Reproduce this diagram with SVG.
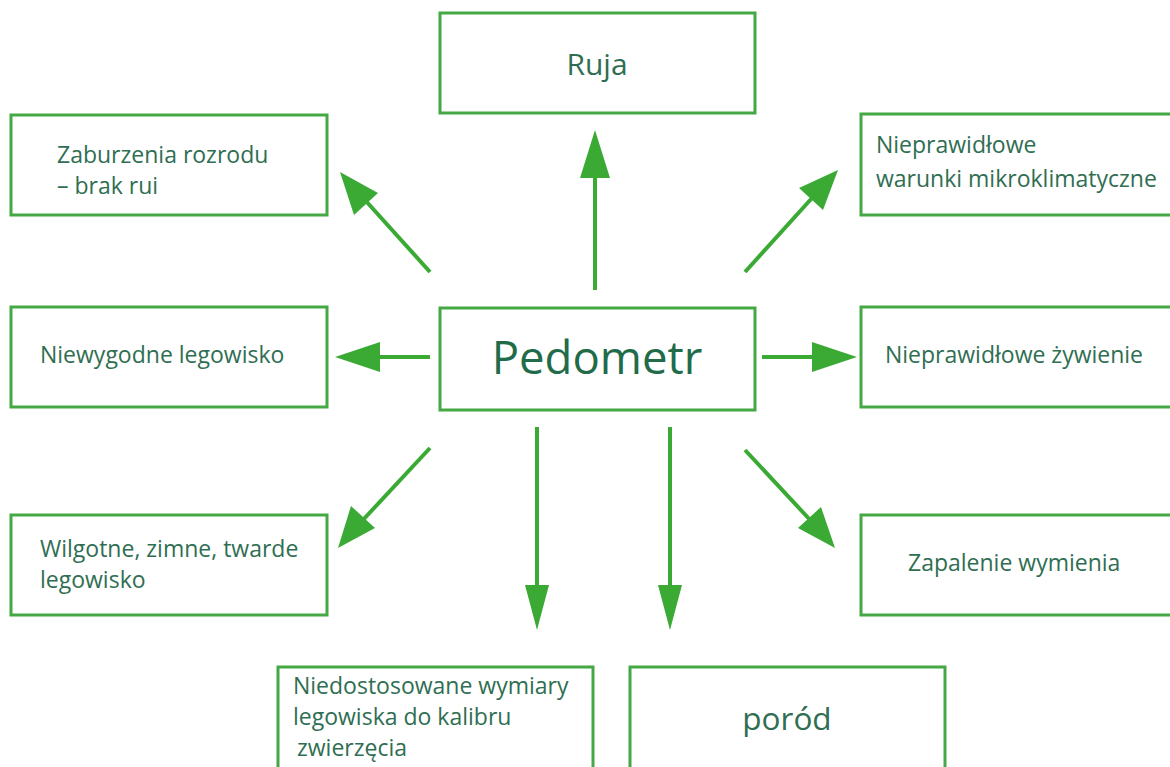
<svg xmlns="http://www.w3.org/2000/svg" width="1170" height="767" viewBox="0 0 1170 767">
<style>
.box{fill:#fff;stroke:#45a845;stroke-width:3}
.t{font-family:"Open Sans","Liberation Sans",sans-serif;fill:#2f6e52;font-size:23px}
.big{font-size:30px;text-anchor:middle}
.ped{font-size:45.5px;text-anchor:middle;fill:#1f6b4a}
.por{font-size:31.5px;text-anchor:middle}
.ln{stroke:#3aaa35;stroke-width:4;fill:none}
.hd{fill:#3aaa35}
</style>
<rect width="1170" height="767" fill="#fff"/>
<g id="connectors">
<line class="ln" x1="595" y1="290" x2="595" y2="170"/><polygon class="hd" points="595,130 580,178 610,178"/>
<line class="ln" x1="430" y1="272" x2="365" y2="200"/><polygon class="hd" points="340,172 354,215 378,193"/>
<line class="ln" x1="745" y1="272" x2="812" y2="198"/><polygon class="hd" points="838,170 799,188 823,210"/>
<line class="ln" x1="430" y1="357" x2="370" y2="357"/><polygon class="hd" points="335,357 380,342 380,372"/>
<line class="ln" x1="762" y1="357" x2="822" y2="357"/><polygon class="hd" points="857,357 812,342 812,372"/>
<line class="ln" x1="430" y1="448" x2="362" y2="521"/><polygon class="hd" points="338,548 351,506 375,528"/>
<line class="ln" x1="537" y1="427" x2="537" y2="590"/><polygon class="hd" points="537,630 525,585 549,585"/>
<line class="ln" x1="670" y1="427" x2="670" y2="590"/><polygon class="hd" points="670,630 658,585 682,585"/>
<line class="ln" x1="745" y1="450" x2="812" y2="522"/><polygon class="hd" points="835,548 798,528 821,507"/>
</g>
<g id="ruja"><rect class="box" x="440" y="13" width="315" height="100"/><text class="t big" x="597" y="75">Ruja</text></g>
<g id="zaburzenia"><rect class="box" x="11" y="115" width="316" height="100"/><text class="t" x="57" y="163">Zaburzenia rozrodu</text><text class="t" x="57" y="194">– brak rui</text></g>
<g id="mikroklimat"><rect class="box" x="861" y="114" width="320" height="101"/><text class="t" x="876" y="153">Nieprawidłowe</text><text class="t" x="876" y="187">warunki mikroklimatyczne</text></g>
<g id="niewygodne"><rect class="box" x="11" y="307" width="316" height="100"/><text class="t" x="40" y="363">Niewygodne legowisko</text></g>
<g id="pedometr"><rect class="box" x="440" y="308" width="315" height="102"/><text class="t ped" x="597" y="374">Pedometr</text></g>
<g id="zywienie"><rect class="box" x="861" y="307" width="320" height="100"/><text class="t" x="885" y="363">Nieprawidłowe żywienie</text></g>
<g id="wilgotne"><rect class="box" x="11" y="515" width="316" height="100"/><text class="t" x="40" y="557">Wilgotne, zimne, twarde</text><text class="t" x="40" y="588">legowisko</text></g>
<g id="zapalenie"><rect class="box" x="861" y="515" width="320" height="100"/><text class="t" x="908" y="571">Zapalenie wymienia</text></g>
<g id="niedostosowane"><rect class="box" x="278" y="667" width="315" height="110"/><text class="t" x="293" y="694">Niedostosowane wymiary</text><text class="t" x="293" y="725">legowiska do kalibru</text><text class="t" x="297" y="756">zwierzęcia</text></g>
<g id="porod"><rect class="box" x="630" y="667" width="315" height="110"/><text class="t por" x="787" y="730">poród</text></g>
</svg>
